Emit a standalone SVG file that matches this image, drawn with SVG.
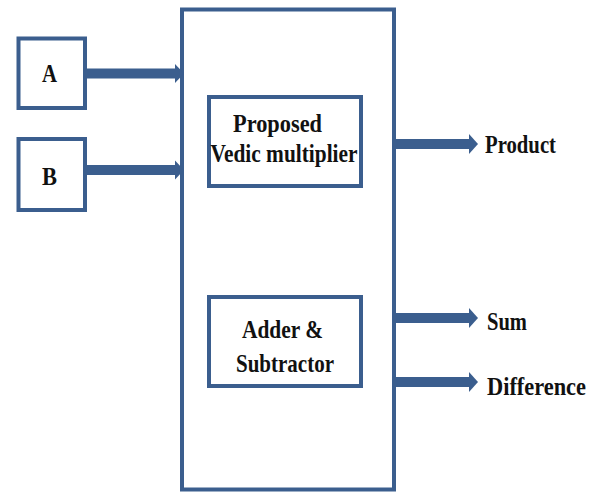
<svg xmlns="http://www.w3.org/2000/svg" width="599" height="492" viewBox="0 0 599 492">
<style>
.box{fill:#fff;stroke:#3b5e8e;stroke-width:4}
.shaft{stroke:#3b5e8e;stroke-width:10;fill:none}
.head{fill:#3b5e8e}
.t{font-family:"Liberation Serif","Times New Roman",serif;font-weight:bold;font-size:25px;fill:#111}
</style>
<rect width="599" height="492" fill="#fff"/>
<g id="main">
<rect class="box" x="182" y="9.5" width="212" height="480"/>
</g>
<g id="nodeA">
<rect class="box" x="18.5" y="38.5" width="66.5" height="69.5"/>
<text class="t" x="49.5" y="82" text-anchor="middle" textLength="15" lengthAdjust="spacingAndGlyphs">A</text>
</g>
<g id="nodeB">
<rect class="box" x="18.5" y="139" width="66.5" height="71"/>
<text class="t" x="49.5" y="185" text-anchor="middle" textLength="15" lengthAdjust="spacingAndGlyphs">B</text>
</g>
<g id="vedic">
<rect class="box" x="209" y="97" width="152" height="89"/>
<text class="t" x="277.5" y="132" text-anchor="middle" textLength="89" lengthAdjust="spacingAndGlyphs">Proposed</text>
<text class="t" x="284" y="162" text-anchor="middle" textLength="147" lengthAdjust="spacingAndGlyphs">Vedic multiplier</text>
</g>
<g id="adder">
<rect class="box" x="209" y="297" width="152" height="89"/>
<text class="t" x="282.5" y="338" text-anchor="middle" textLength="81" lengthAdjust="spacingAndGlyphs">Adder &amp;</text>
<text class="t" x="285" y="372" text-anchor="middle" textLength="98" lengthAdjust="spacingAndGlyphs">Subtractor</text>
</g>
<g id="outputs">
<text class="t" x="485" y="153" textLength="71" lengthAdjust="spacingAndGlyphs">Product</text>
<text class="t" x="487" y="330" textLength="40" lengthAdjust="spacingAndGlyphs">Sum</text>
<text class="t" x="487" y="395" textLength="99" lengthAdjust="spacingAndGlyphs">Difference</text>
</g>
<g id="connectors">
<line class="shaft" x1="85" y1="73.5" x2="176" y2="73.5"/>
<polygon class="head" points="175,64 184,73.5 175,83"/>
<line class="shaft" x1="85" y1="170" x2="176" y2="170"/>
<polygon class="head" points="175,160.5 184,170 175,179.5"/>
<line class="shaft" x1="396" y1="144" x2="471" y2="144"/>
<polygon class="head" points="469,134 478,144 469,154"/>
<line class="shaft" x1="396" y1="318" x2="471" y2="318"/>
<polygon class="head" points="469,308 478,318 469,328"/>
<line class="shaft" x1="396" y1="382" x2="471" y2="382"/>
<polygon class="head" points="469,372 478,382 469,392"/>
</g>
</svg>
